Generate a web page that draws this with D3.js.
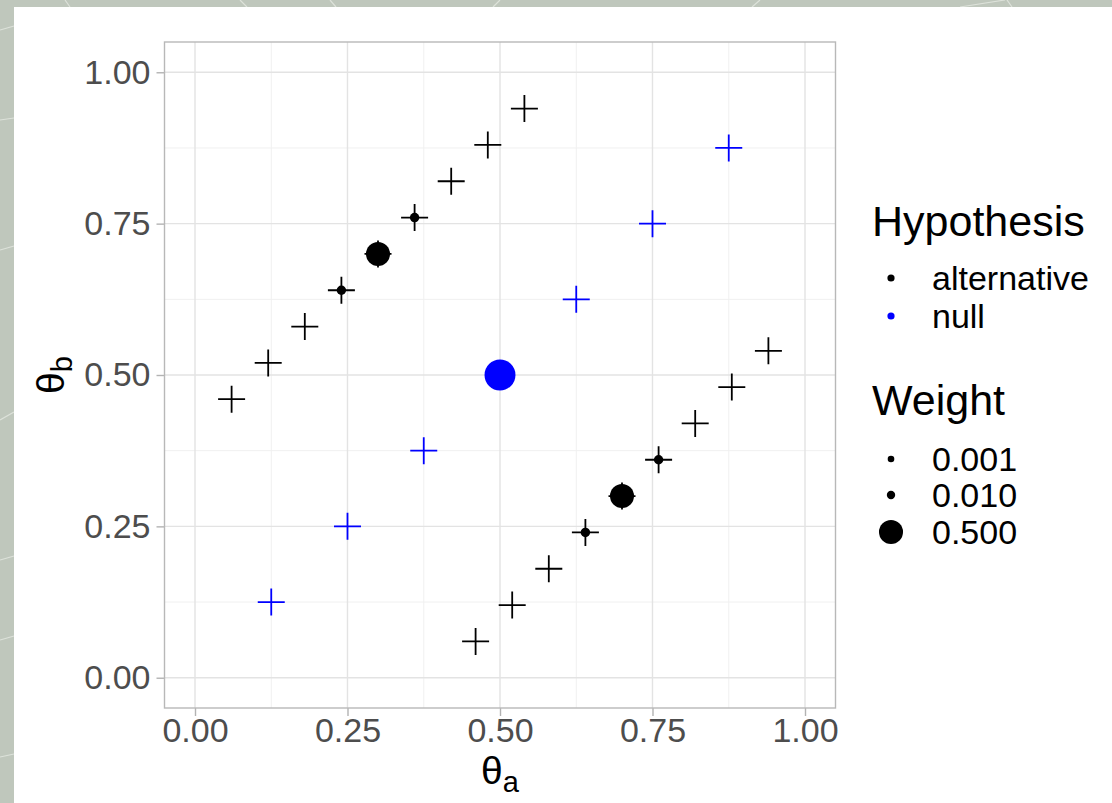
<!DOCTYPE html>
<html>
<head>
<meta charset="utf-8">
<script src="https://cdn.jsdelivr.net/npm/d3@7"></script>
<style>
  html, body { margin: 0; padding: 0; background: #bfc7bc; }
  svg { display: block; }
</style>
</head>
<body>
<svg id="chart" width="1112" height="803"></svg>
<script>
// Support points of the two hypotheses and their prior weights
const altA = [0.06, 0.12, 0.18, 0.24, 0.30, 0.36, 0.42, 0.48, 0.54,
              0.46, 0.52, 0.58, 0.64, 0.70, 0.76, 0.82, 0.88, 0.94];
const altB = [0.46, 0.52, 0.58, 0.64, 0.70, 0.76, 0.82, 0.88, 0.94,
              0.06, 0.12, 0.18, 0.24, 0.30, 0.36, 0.42, 0.48, 0.54];
const altWeight = [0, 0, 0, 0.02, 0.5, 0.02, 0, 0, 0,
                   0, 0, 0, 0.02, 0.5, 0.02, 0, 0, 0];

const nullA = [0.125, 0.25, 0.375, 0.5, 0.625, 0.75, 0.875];
const nullB = [0.125, 0.25, 0.375, 0.5, 0.625, 0.75, 0.875];
const nullWeight = [0, 0, 0, 0.95, 0, 0, 0];

const hypotheses = ["alternative", "null"];
const hypothesisColors = ["#000000", "#0000ff"];
const weightBreaks = [0.001, 0.010, 0.500];
const tickValues = [0, 0.25, 0.5, 0.75, 1];
const minorValues = [0.125, 0.375, 0.625, 0.875];

const points = [
  ...altA.map((a, i) => ({ a, b: altB[i], w: altWeight[i], h: "alternative" })),
  ...nullA.map((a, i) => ({ a, b: nullB[i], w: nullWeight[i], h: "null" }))
];

const svg = d3.select("#chart");
const W = 1112, H = 803;

// Slide-style backdrop with a white card
svg.append("rect").attr("width", W).attr("height", H).attr("fill", "#bfc7bc");
const deco = svg.append("g").attr("stroke", "#dde2da").attr("stroke-width", 1.2).attr("fill", "none");
[[0, 30, 14, 26], [0, 120, 14, 118], [0, 250, 14, 246], [0, 420, 14, 412], [0, 560, 14, 556],
 [0, 640, 14, 636], [0, 757, 14, 754], [65, 0, 70, 7], [240, 0, 247, 7], [330, 0, 336, 7],
 [500, 0, 493, 7], [760, 0, 752, 7], [960, 7, 1005, 0], [1007, 0, 1012, 7]]
  .forEach(([x1, y1, x2, y2]) => deco.append("line").attr("x1", x1).attr("y1", y1).attr("x2", x2).attr("y2", y2));
svg.append("rect").attr("x", 14).attr("y", 7).attr("width", W - 14).attr("height", H - 7).attr("fill", "#ffffff");

// Scales
const x = d3.scaleLinear().domain([-0.05, 1.05]).range([164.5, 835.5]);
const y = d3.scaleLinear().domain([-0.05, 1.05]).range([708, 42]);
const r = d3.scaleSqrt().domain([0, 1]).range([2.9, 15.8]);
const colour = d3.scaleOrdinal().domain(hypotheses).range(hypothesisColors);

const x0 = x.range()[0], x1 = x.range()[1], y0 = y.range()[0], y1 = y.range()[1];

// Panel grid
const grid = svg.append("g");
grid.selectAll("line.minx").data(minorValues).join("line")
  .attr("x1", d => x(d)).attr("x2", d => x(d)).attr("y1", y1).attr("y2", y0)
  .attr("stroke", "#f0f0f0").attr("stroke-width", 1);
grid.selectAll("line.miny").data(minorValues).join("line")
  .attr("y1", d => y(d)).attr("y2", d => y(d)).attr("x1", x0).attr("x2", x1)
  .attr("stroke", "#f0f0f0").attr("stroke-width", 1);
grid.selectAll("line.majx").data(tickValues).join("line")
  .attr("x1", d => x(d)).attr("x2", d => x(d)).attr("y1", y1).attr("y2", y0)
  .attr("stroke", "#e3e3e3").attr("stroke-width", 1.4);
grid.selectAll("line.majy").data(tickValues).join("line")
  .attr("y1", d => y(d)).attr("y2", d => y(d)).attr("x1", x0).attr("x2", x1)
  .attr("stroke", "#e3e3e3").attr("stroke-width", 1.4);

// Axes
const font = "'Liberation Sans', Arial, sans-serif";
const fmt = d3.format(".2f");
const xAxis = svg.append("g").attr("transform", `translate(0,${y0})`)
  .call(d3.axisBottom(x).tickValues(tickValues).tickFormat(fmt).tickSize(8).tickPadding(2));
const yAxis = svg.append("g").attr("transform", `translate(${x0},0)`)
  .call(d3.axisLeft(y).tickValues(tickValues).tickFormat(fmt).tickSize(8).tickPadding(6));
[xAxis, yAxis].forEach(g => {
  g.select(".domain").remove();
  g.selectAll(".tick line").attr("stroke", "#b3b3b3").attr("stroke-width", 1.4);
  g.selectAll(".tick text").attr("fill", "#4d4d4d")
    .style("font-family", font).style("font-size", "34px");
});

// Panel border
svg.append("rect").attr("x", x0).attr("y", y1).attr("width", x1 - x0).attr("height", y0 - y1)
  .attr("fill", "none").attr("stroke", "#b8b8b8").attr("stroke-width", 1.4);

// Support points as crosses
const arm = 13.5;
const crosses = svg.append("g");
crosses.selectAll("path").data(points).join("path")
  .attr("d", d => `M${x(d.a) - arm},${y(d.b)}H${x(d.a) + arm}M${x(d.a)},${y(d.b) - arm}V${y(d.b) + arm}`)
  .attr("stroke", d => colour(d.h)).attr("stroke-width", 1.8).attr("fill", "none");

// Weighted points
svg.append("g").selectAll("circle").data(points.filter(d => d.w > 0)).join("circle")
  .attr("cx", d => x(d.a)).attr("cy", d => y(d.b)).attr("r", d => r(d.w))
  .attr("fill", d => colour(d.h));

// Axis titles
const xt = svg.append("text").attr("x", x(0.5)).attr("y", 784).attr("text-anchor", "middle")
  .style("font-family", font).style("font-size", "39px").attr("fill", "#000");
xt.append("tspan").text("θ");
xt.append("tspan").attr("dy", 8).style("font-size", "29px").text("a");

const yt = svg.append("text").attr("transform", `translate(64,${y(0.5)}) rotate(-90)`)
  .attr("text-anchor", "middle").style("font-family", font).style("font-size", "39px").attr("fill", "#000");
yt.append("tspan").text("θ");
yt.append("tspan").attr("dy", 8).style("font-size", "29px").text("b");

// Legends
const leg = svg.append("g").style("font-family", font);
leg.append("text").attr("x", 872).attr("y", 236).style("font-size", "43px").text("Hypothesis");
const hRows = [278, 316];
hypotheses.forEach((h, i) => {
  leg.append("circle").attr("cx", 891).attr("cy", hRows[i]).attr("r", 3.6).attr("fill", colour(h));
  leg.append("text").attr("x", 932).attr("y", hRows[i]).attr("dy", "0.35em")
    .style("font-size", "34px").text(h);
});
leg.append("text").attr("x", 872).attr("y", 415).style("font-size", "43px").text("Weight");
const wRows = [459, 495, 532];
weightBreaks.forEach((w, i) => {
  leg.append("circle").attr("cx", 891).attr("cy", wRows[i]).attr("r", r(w)).attr("fill", "#000");
  leg.append("text").attr("x", 932).attr("y", wRows[i]).attr("dy", "0.35em")
    .style("font-size", "34px").text(d3.format(".3f")(w));
});
</script>
</body>
</html>
